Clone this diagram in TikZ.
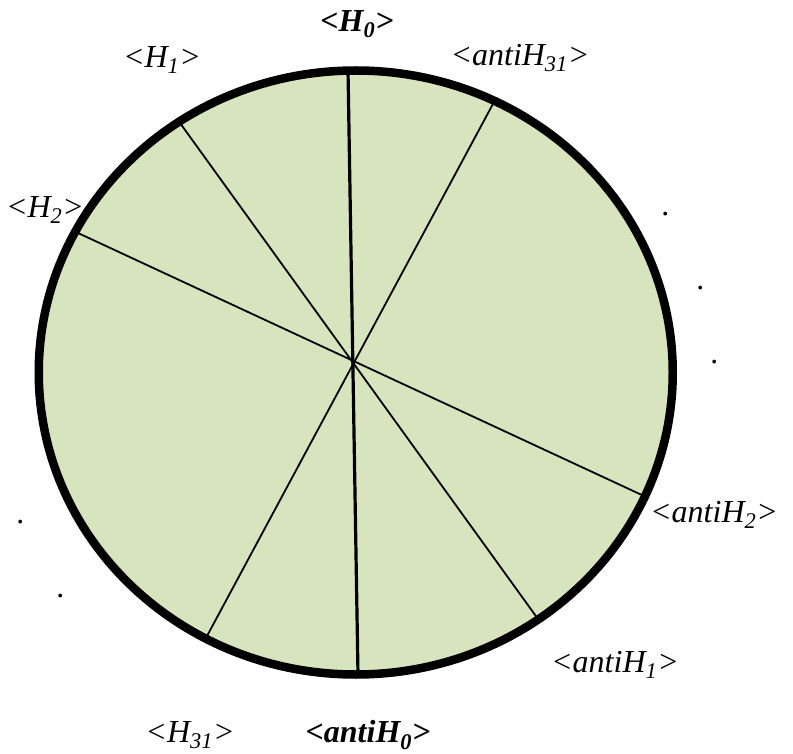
\documentclass[tikz,border=0pt]{standalone}
\usepackage{fontspec}
\setmainfont{Liberation Serif}
\usetikzlibrary{calc}
\definecolor{leaf}{HTML}{D7E4BD}
\tikzset{
  rim/.style={draw=black,line width=8.5pt},
  cut/.style={draw=black,line width=1.8pt},
  axisline/.style={draw=black,line width=3.2pt},
  lbl/.style={font=\fontsize{32}{36}\selectfont\itshape,inner sep=0pt},
  blbl/.style={lbl,font=\fontsize{32}{36}\selectfont\bfseries\itshape}
}
\newcommand{\hsub}[1]{H\textsubscript{#1}}

\begin{document}
\begin{tikzpicture}[x=1pt,y=-1pt]
\useasboundingbox (0,0) rectangle (793,754);
\fill[leaf] (355.75,372.5) ellipse [x radius=317, y radius=302];
% diameters
\coordinate (t0) at (348,70);   \coordinate (b0) at (358,675);
\coordinate (t1) at (180,123);  \coordinate (b1) at (538,619);
\coordinate (t2) at (78,233);   \coordinate (b2) at (644,496);
\coordinate (t3) at (494,102);  \coordinate (b3) at (207,636);
\draw[axisline] (t0) -- (b0);
\draw[cut] (t1) -- (b1);
\draw[cut] (t2) -- (b2);
\draw[cut] (t3) -- (b3);
\draw[rim] (355.75,372.5) ellipse [x radius=317, y radius=302];
% labels
\node[blbl] (h0) at (357,24) {<\hsub{0}>};
\node[lbl] (h1) at (162,60) {<\hsub{1}>};
\node[lbl] (h2) at (45,210) {<\hsub{2}>};
\node[lbl] (ah31) at (520,58) {<anti\hsub{31}>};
\node[lbl] (ah2) at (714,515) {<anti\hsub{2}>};
\node[lbl] (ah1) at (615,665) {<anti\hsub{1}>};
\node[lbl] (h31) at (190,735) {<\hsub{31}>};
\node[blbl] (ah0) at (368,735) {<anti\hsub{0}>};
% dots
\node[lbl] (d1) at (666,214) {.};
\node[lbl] (d2) at (701,288) {.};
\node[lbl] (d3) at (715,362) {.};
\node[lbl] (d4) at (21,522) {.};
\node[lbl] (d5) at (61,596) {.};
\end{tikzpicture}
\end{document}
